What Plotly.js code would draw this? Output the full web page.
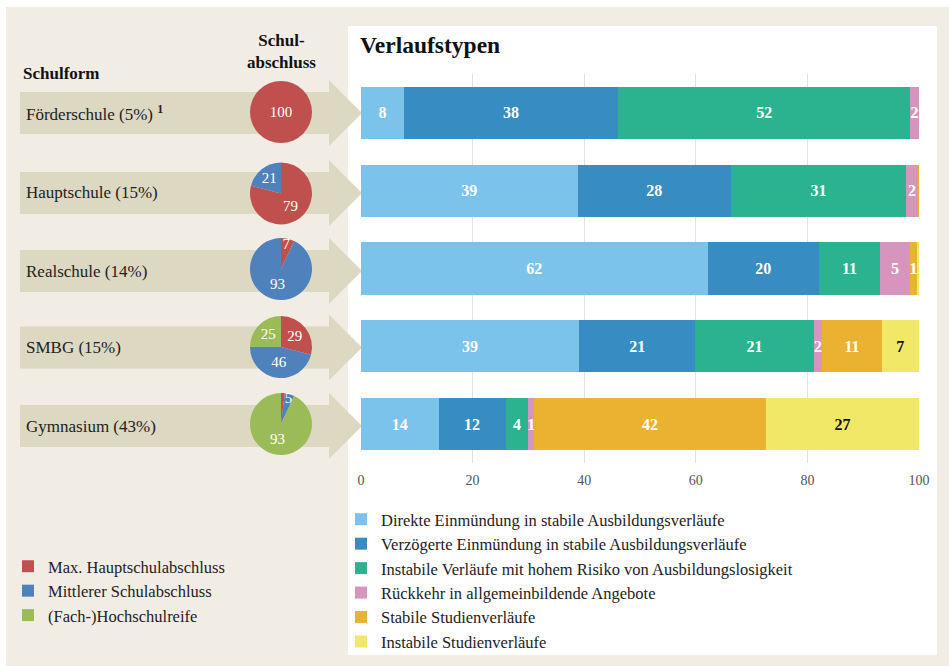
<!DOCTYPE html>
<html><head><meta charset="utf-8">
<script src="https://cdn.plot.ly/plotly-3.0.1.min.js"></script>
<style>html,body{margin:0;padding:0;background:#fff}#chart{width:949px;height:667px}</style>
</head><body><div id="chart"></div>
<script>
// ---- data ----
const schoolTypes = ['Förderschule', 'Hauptschule', 'Realschule', 'SMBG', 'Gymnasium'];
const schoolLabels = ['Förderschule (5%) <b><sup>1</sup></b>', 'Hauptschule (15%)', 'Realschule (14%)', 'SMBG (15%)', 'Gymnasium (43%)'];
const courseTypes = [
  'Direkte Einmündung in stabile Ausbildungsverläufe',
  'Verzögerte Einmündung in stabile Ausbildungsverläufe',
  'Instabile Verläufe mit hohem Risiko von Ausbildungslosigkeit',
  'Rückkehr in allgemeinbildende Angebote',
  'Stabile Studienverläufe',
  'Instabile Studienverläufe'
];
const direkte      = [7.7, 38.8, 62.1, 39.1, 13.9];
const verzoegert   = [38.4, 27.5, 20.0, 20.8, 12.0];
const instabilAusb = [52.3, 31.4, 10.9, 21.2, 4.1];
const rueckkehr    = [1.6, 2.1, 5.4, 1.6, 1.0];
const stabilStud   = [0, 0.2, 1.2, 10.6, 41.6];
const instabilStud = [0, 0, 0.4, 6.7, 27.4];
const courseValues = [direkte, verzoegert, instabilAusb, rueckkehr, stabilStud, instabilStud];

const degreeLabels = ['Max. Hauptschulabschluss', 'Mittlerer Schulabschluss', '(Fach-)Hochschulreife'];
const maxHauptschul = [100, 79, 7, 29, 2];
const mittlerer     = [0, 21, 93, 46, 5];
const hochschulreife = [0, 0, 0, 25, 93];

const xTicks = [0, 20, 40, 60, 80, 100];

// ---- styles ----
const W = 949, H = 667;
const X = p => p / W;
const Y = p => 1 - p / H;
const serif = 'Liberation Serif, Times New Roman, serif';
const courseColors = ['#7cc3ec', '#378dc1', '#2bb38f', '#d795bd', '#ebb130', '#f0e866'];
const courseTextColors = ['#fff', '#fff', '#fff', '#fff', '#fff', '#111'];
const degreeColors = ['#c0504d', '#4f81bd', '#9bbb59'];
const beige = '#f1ede5', arrowCol = '#dcd8c2';

const traces = [];
courseValues.forEach((vals, i) => {
  traces.push({
    type: 'bar', orientation: 'h', name: courseTypes[i],
    y: schoolTypes, x: vals,
    text: vals.map(v => v >= 0.95 ? String(Math.round(v)) : ''),
    textposition: 'inside', insidetextanchor: 'middle', constraintext: 'none',
    textfont: {family: serif, size: 16, color: courseTextColors[i], weight: 'bold'},
    texttemplate: '<b>%{text}</b>',
    marker: {color: courseColors[i], line: {width: 0}},
    hoverinfo: 'none', legend: 'legend'
  });
});

const pieCy = [112, 193.5, 269, 347, 424], pieCx = 281, pieR = 31;
schoolTypes.forEach((s, k) => {
  const vals = [maxHauptschul[k], mittlerer[k], hochschulreife[k]];
  traces.push({
    type: 'pie', labels: degreeLabels, values: vals, sort: false,
    direction: 'clockwise', rotation: 0,
    text: vals.map(v => v >= 5 ? String(v) : ''), textinfo: 'text',
    textposition: 'inside', insidetextorientation: 'horizontal',
    textfont: {family: serif, size: 15, color: '#fff'},
    marker: {colors: degreeColors, line: {width: 0}},
    domain: {x: [X(pieCx - pieR), X(pieCx + pieR)], y: [Y(pieCy[k] + pieR), Y(pieCy[k] - pieR)]},
    hoverinfo: 'none', legend: 'legend2', showlegend: k === 0 || k === 3
  });
});

// shapes
const shapes = [
  {type: 'rect', xref: 'paper', yref: 'paper', x0: X(6), x1: X(949), y0: Y(666), y1: Y(7), fillcolor: beige, line: {width: 0}, layer: 'below'},
  {type: 'rect', xref: 'paper', yref: 'paper', x0: X(348), x1: X(937), y0: Y(655), y1: Y(26), fillcolor: '#ffffff', line: {width: 0}, layer: 'below'}
];
const arrowCy = [113, 193, 271, 347.5, 426];
arrowCy.forEach(c => {
  const pts = [[20, c - 21], [329, c - 21], [329, c - 33], [362, c], [329, c + 33], [329, c + 21], [20, c + 21]];
  const path = 'M' + pts.map(p => X(p[0]).toFixed(5) + ',' + Y(p[1]).toFixed(5)).join(' L') + ' Z';
  shapes.push({type: 'path', xref: 'paper', yref: 'paper', path: path, fillcolor: arrowCol, line: {width: 0}, layer: 'below'});
});

const annotations = [
  {xref: 'paper', yref: 'paper', x: X(21), y: Y(73), xanchor: 'left', yanchor: 'middle', showarrow: false,
   text: '<b>Schulform</b>', font: {family: serif, size: 17, color: '#111'}},
  {xref: 'paper', yref: 'paper', x: X(281), y: Y(51), xanchor: 'center', yanchor: 'middle', showarrow: false,
   text: '<b>Schul-<br>abschluss</b>', font: {family: serif, size: 17, color: '#111'}},
  {xref: 'paper', yref: 'paper', x: X(358), y: Y(45), xanchor: 'left', yanchor: 'middle', showarrow: false,
   text: '<b>Verlaufstypen</b>', font: {family: serif, size: 23.5, color: '#111'}}
];
schoolLabels.forEach((t, k) => {
  annotations.push({xref: 'paper', yref: 'paper', x: X(24), y: Y(arrowCy[k]), xanchor: 'left', yanchor: 'middle',
    showarrow: false, text: t, font: {family: serif, size: 17, color: '#222'}});
});

const layout = {
  width: W, height: H, margin: {l: 0, r: 0, t: 0, b: 0},
  paper_bgcolor: '#ffffff', plot_bgcolor: 'rgba(0,0,0,0)',
  barmode: 'stack', bargap: 0.33,
  uniformtext: {mode: 'show', minsize: 15},
  font: {family: serif, color: '#222'},
  xaxis: {domain: [X(361), X(919)], range: [0, 100], tickvals: xTicks, ticktext: xTicks.map(String),
    showgrid: true, gridcolor: '#e2e2e2', gridwidth: 1, zeroline: false, showline: false, ticks: '',
    ticklabelstandoff: 7,
    tickfont: {family: serif, size: 14, color: '#555'}, fixedrange: true},
  yaxis: {domain: [Y(463), Y(74)], autorange: 'reversed', showticklabels: false, showgrid: false,
    zeroline: false, showline: false, ticks: '', type: 'category', fixedrange: true},
  showlegend: true,
  legend: {x: X(341), y: Y(502), xanchor: 'left', yanchor: 'top', traceorder: 'normal',
    bgcolor: 'rgba(0,0,0,0)', font: {family: serif, size: 16.5, color: '#222'}},
  legend2: {x: X(8), y: Y(549), xanchor: 'left', yanchor: 'top', traceorder: 'normal',
    bgcolor: 'rgba(0,0,0,0)', font: {family: serif, size: 16.5, color: '#222'}},
  shapes: shapes, annotations: annotations
};

Plotly.newPlot('chart', traces, layout, {displayModeBar: false, staticPlot: true});
</script>
</body></html>
